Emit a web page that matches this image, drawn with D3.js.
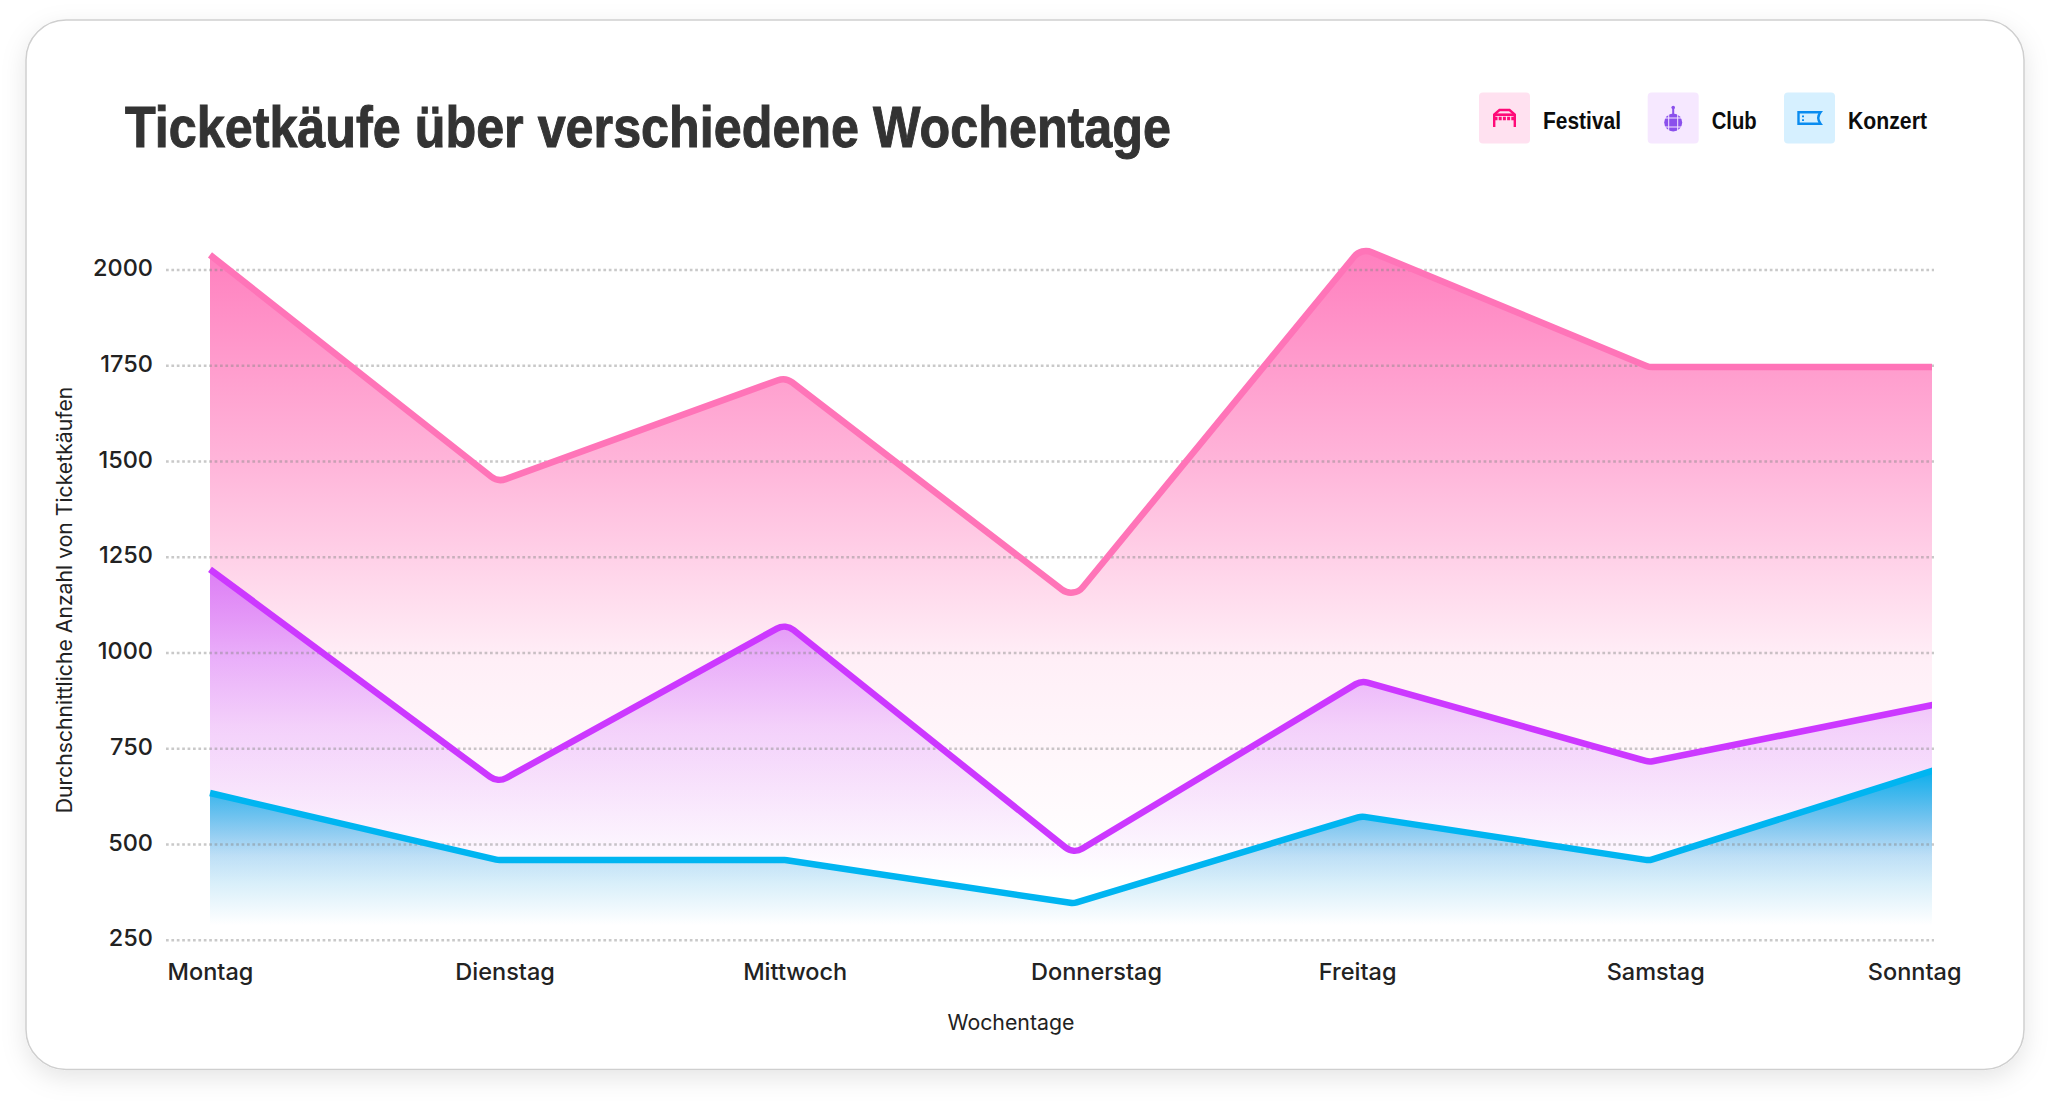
<!DOCTYPE html>
<html>
<head>
<meta charset="utf-8">
<style>
  html, body { margin: 0; padding: 0; background: #fff; }
  svg { display: block; }
  text { font-family: Inter, "Liberation Sans", sans-serif; fill: #222; }
</style>
<script src="https://cdn.jsdelivr.net/npm/d3@7"></script>
</head>
<body>
<svg width="2050" height="1101"></svg>
<script>
  var days = ['Montag', 'Dienstag', 'Mittwoch', 'Donnerstag', 'Freitag', 'Samstag', 'Sonntag'];
  var festival = [2038, 1445, 1718, 1141, 2056, 1745, 1745];
  var club = [1217, 660, 1075, 474, 926, 714, 865];
  var konzert = [633, 458, 458, 345, 572, 457, 695];
  var yTicks = [250, 500, 750, 1000, 1250, 1500, 1750, 2000];
  var legendNames = ['Festival', 'Club', 'Konzert'];

  var svgctrl = d3.select('svg');
  var defs = svgctrl.append('defs');

  // card shadow
  var shadow = defs.append('filter').attr('id', 'cardShadow').attr('x', '-5%').attr('y', '-5%').attr('width', '110%').attr('height', '115%');
  shadow.append('feDropShadow').attr('dx', 0).attr('dy', 8).attr('stdDeviation', 12).attr('flood-color', '#000').attr('flood-opacity', 0.1);

  svgctrl.append('rect').attr('x', 26).attr('y', 20).attr('width', 1998).attr('height', 1049.5).attr('rx', 40).attr('ry', 40)
    .attr('fill', '#fff').attr('stroke', '#cfcfcf').attr('stroke-width', 1.5).attr('filter', 'url(#cardShadow)');

  var x = d3.scalePoint().domain(days).range([210, 1937]);
  var y = d3.scaleLinear().domain([250, 2000]).range([939.7, 269.4]);
  var fadeBase = 288;
  var cornerR = 15;

  // the plot stops a little before the last point
  defs.append('clipPath').attr('id', 'plotClip').append('rect').attr('x', 200).attr('y', 200).attr('width', 1732).attr('height', 760);

  function addGradient(id, from, to, stops) {
    var g = defs.append('linearGradient').attr('id', id).attr('gradientUnits', 'userSpaceOnUse')
      .attr('x1', 0).attr('x2', 0).attr('y1', y(from)).attr('y2', y(to));
    stops.forEach(function (s) {
      g.append('stop').attr('offset', s[0]).attr('stop-color', s[2]).attr('stop-opacity', s[1]);
    });
  }
  addGradient('gradFestival', 2051, 450, [[0, 0.8, '#ff5fae'], [0.35, 0.46, '#ff5fae'], [0.67, 0.1, '#ff5fae'], [1, 0, '#ff5fae']]);
  addGradient('gradClub', 1217, 400, [[0, 0.58, '#c440ff'], [0.5, 0.2, '#c440ff'], [1, 0, '#c440ff']]);
  addGradient('gradKonzert', 691, fadeBase, [[0, 0.95, '#00aeec'], [0.55, 0.28, '#1a9fe0'], [1, 0, '#1a9fe0']]);

  // polyline with rounded corners, keeps going if base is given (for the fill)
  function topEdge(values, base) {
    var p = d3.path();
    var pts = values.map(function (v, i) { return [x(days[i]), y(v)]; });
    p.moveTo(pts[0][0], pts[0][1]);
    for (var i = 1; i < pts.length - 1; i++) {
      p.arcTo(pts[i][0], pts[i][1], pts[i + 1][0], pts[i + 1][1], cornerR);
    }
    p.lineTo(pts[pts.length - 1][0], pts[pts.length - 1][1]);
    if (base !== undefined) {
      p.lineTo(pts[pts.length - 1][0], y(base));
      p.lineTo(pts[0][0], y(base));
      p.closePath();
    }
    return p.toString();
  }

  var series = [
    { values: festival, fill: 'url(#gradFestival)', stroke: '#ff74b8' },
    { values: club, fill: 'url(#gradClub)', stroke: '#cc38ff' },
    { values: konzert, fill: 'url(#gradKonzert)', stroke: '#00b5f1' }
  ];

  var plot = svgctrl.append('g').attr('clip-path', 'url(#plotClip)');
  series.forEach(function (s) {
    plot.append('path').attr('d', topEdge(s.values, fadeBase)).attr('fill', s.fill);
  });

  // grid comes from the y axis ticks
  var yAxis = svgctrl.append('g').attr('transform', 'translate(166,0)')
    .call(d3.axisLeft(y).tickValues(yTicks).tickSize(-1768).tickPadding(13).tickFormat(d3.format('d')));
  yAxis.select('.domain').remove();
  yAxis.selectAll('line').attr('stroke', '#888').attr('stroke-opacity', 0.45).attr('stroke-width', 2.5).attr('stroke-dasharray', '2.7 2.7');
  yAxis.selectAll('text').attr('font-size', 23.5).attr('font-weight', 500).attr('fill', '#222').attr('dy', '0.26em');

  var lines = svgctrl.append('g').attr('clip-path', 'url(#plotClip)');
  series.forEach(function (s) {
    lines.append('path').attr('d', topEdge(s.values)).attr('fill', 'none').attr('stroke', s.stroke).attr('stroke-width', 6.5);
  });

  var xAxis = svgctrl.append('g').attr('transform', 'translate(0,939.7)')
    .call(d3.axisBottom(x).tickSize(0));
  xAxis.select('.domain').remove();
  xAxis.selectAll('text')
    .attr('font-size', 23.5).attr('font-weight', 500).attr('fill', '#222')
    .attr('dy', null).attr('y', 40)
    .attr('text-anchor', function (d, i) { return i === days.length - 1 ? 'end' : 'start'; })
    .attr('dx', function (d, i) { return i === days.length - 1 ? 24 : -43; });

  svgctrl.append('text').attr('x', 125).attr('y', 147).attr('font-size', 57).attr('font-weight', 700)
    .style('font-family', '"Liberation Sans", sans-serif').style('fill', '#333').style('stroke', '#333').style('stroke-width', 1)
    .attr('textLength', 1046).attr('lengthAdjust', 'spacingAndGlyphs')
    .text('Ticketkäufe über verschiedene Wochentage');

  svgctrl.append('text').attr('x', 1011).attr('y', 1030).attr('text-anchor', 'middle').attr('font-size', 21.3)
    .text('Wochentage');

  svgctrl.append('text').attr('transform', 'translate(72,600) rotate(-90)').attr('text-anchor', 'middle').attr('font-size', 21.2)
    .text('Durchschnittliche Anzahl von Ticketkäufen');

  // legend
  var legendTiles = [1479, 1647.7, 1784];
  var tileColors = ['#ffe1f0', '#f6e8ff', '#d6f0ff'];
  var iconColors = ['#ff0a78', '#8a50ec', '#0a8cf0'];
  var labelWidths = [78, 45, 79];

  legendNames.forEach(function (name, i) {
    var g = svgctrl.append('g').attr('transform', 'translate(' + legendTiles[i] + ',92.5)');
    g.append('rect').attr('width', 51).attr('height', 51).attr('rx', 4).attr('fill', tileColors[i]);
    var icon = g.append('g').attr('transform', 'translate(25.5,25.5)').attr('fill', 'none').attr('stroke', iconColors[i]).attr('stroke-width', 2.4);
    if (i === 0) {
      // tent
      icon.append('path').attr('d', 'M-10.3 9V-3.5L-5 -8H5L10.3 -3.5V9');
      icon.append('path').attr('d', 'M-10.3 -3.3H10.3').attr('stroke-width', 2.6);
      icon.append('path').attr('d', 'M-10 0.5H10').attr('stroke-width', 3.4).attr('stroke-dasharray', '3 1.2');
    } else if (i === 1) {
      // disco ball
      icon.append('circle').attr('cy', 4.5).attr('r', 9).attr('fill', iconColors[i]).attr('stroke', 'none');
      icon.append('path').attr('d', 'M-9 0H9M-9 9H9M-4.5 -4.5V13.5M4.5 -4.5V13.5').attr('stroke', tileColors[i]).attr('stroke-width', 1);
      icon.append('path').attr('d', 'M0 -11V-4').attr('stroke-width', 2);
      icon.append('circle').attr('cy', -10.5).attr('r', 1.8).attr('fill', iconColors[i]).attr('stroke', 'none');
    } else {
      // ticket
      icon.append('path').attr('d', 'M-11 -5.7H11Q6.5 0 11 5.7H-11Z');
      icon.append('path').attr('d', 'M-6.5 -2.5V3').attr('stroke-width', 2).attr('stroke-dasharray', '1.7 2');
    }
    g.append('text').attr('x', 64).attr('y', 36.5).attr('font-size', 24).attr('font-weight', 700)
      .style('fill', '#0c0c0c').style('font-family', '"Liberation Sans", sans-serif')
      .attr('textLength', labelWidths[i]).attr('lengthAdjust', 'spacingAndGlyphs')
      .text(name);
  });
</script>
</body>
</html>
